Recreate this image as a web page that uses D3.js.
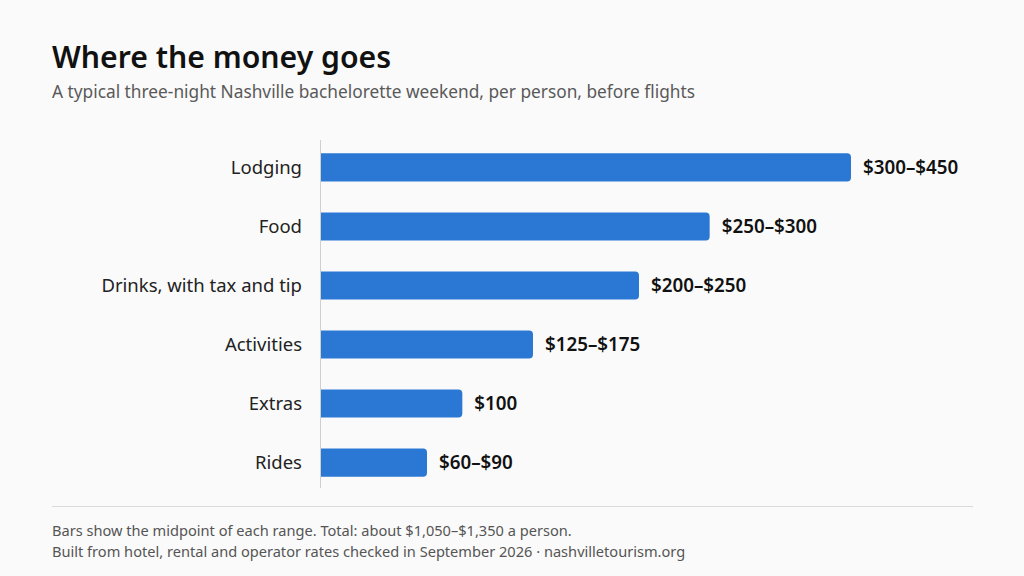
<!DOCTYPE html>
<html><head><meta charset="utf-8">
<script src="https://cdn.jsdelivr.net/npm/d3@7"></script>
<style>
html,body{margin:0;padding:0;background:#fafafa;}
svg{display:block;font-family:"Noto Sans",sans-serif;}
</style></head>
<body>
<svg id="chart" width="1024" height="576"></svg>
<script>
const categories = ["Lodging","Food","Drinks, with tax and tip","Activities","Extras","Rides"];
const lowValues  = [300, 250, 200, 125, 100, 60];
const highValues = [450, 300, 250, 175, 100, 90];
const rangeLabels = ["$300–$450","$250–$300","$200–$250","$125–$175","$100","$60–$90"];
const title = "Where the money goes";
const subtitle = "A typical three-night Nashville bachelorette weekend, per person, before flights";
const notes = ["Bars show the midpoint of each range. Total: about $1,050–$1,350 a person.",
               "Built from hotel, rental and operator rates checked in September 2026 · nashvilletourism.org"];

const data = categories.map((c,i)=>({cat:c, mid:(lowValues[i]+highValues[i])/2, label:rangeLabels[i]}));

const svg = d3.select("#chart");
svg.append("rect").attr("width",1024).attr("height",576).attr("fill","#fafafa");

svg.append("text").attr("x",52).attr("y",68).text(title)
  .attr("font-size",30.2).attr("font-weight",600).attr("fill","#111");
svg.append("text").attr("x",52).attr("y",98).text(subtitle)
  .attr("font-size",17.3).attr("fill","#595959");

const x = d3.scaleLinear().domain([0, d3.max(data,d=>d.mid)]).range([321, 851]);
const y = d3.scaleBand().domain(categories).range([138, 492]).paddingInner(0.525).paddingOuter(0.26);

svg.append("line").attr("x1",320.5).attr("x2",320.5).attr("y1",140).attr("y2",488)
  .attr("stroke","#cfcfcf").attr("stroke-width",1);

const r = 4;
function barPath(d){
  const x0 = x(0), x1 = x(d.mid), y0 = y(d.cat), h = y.bandwidth();
  return `M${x0},${y0}H${x1-r}Q${x1},${y0} ${x1},${y0+r}V${y0+h-r}Q${x1},${y0+h} ${x1-r},${y0+h}H${x0}Z`;
}
svg.selectAll(".bar").data(data).join("path").attr("class","bar")
  .attr("d",barPath).attr("fill","#2b78d4");

svg.selectAll(".cat").data(data).join("text").attr("class","cat")
  .attr("x",302).attr("y",d=>y(d.cat)+y.bandwidth()/2).attr("dy","0.35em")
  .attr("text-anchor","end").attr("font-size",18.5).attr("fill","#222").text(d=>d.cat);

svg.selectAll(".val").data(data).join("text").attr("class","val")
  .attr("x",d=>x(d.mid)+12).attr("y",d=>y(d.cat)+y.bandwidth()/2).attr("dy","0.35em")
  .attr("font-size",18.8).attr("font-weight",600).attr("fill","#111").text(d=>d.label);

svg.append("line").attr("x1",52).attr("x2",973).attr("y1",506.5).attr("y2",506.5)
  .attr("stroke","#d9d9d9").attr("stroke-width",1);

svg.selectAll(".note").data(notes).join("text").attr("class","note")
  .attr("x",52).attr("y",(d,i)=>536+i*21).attr("font-size",14.6).attr("fill","#555").text(d=>d);
</script>
</body></html>
